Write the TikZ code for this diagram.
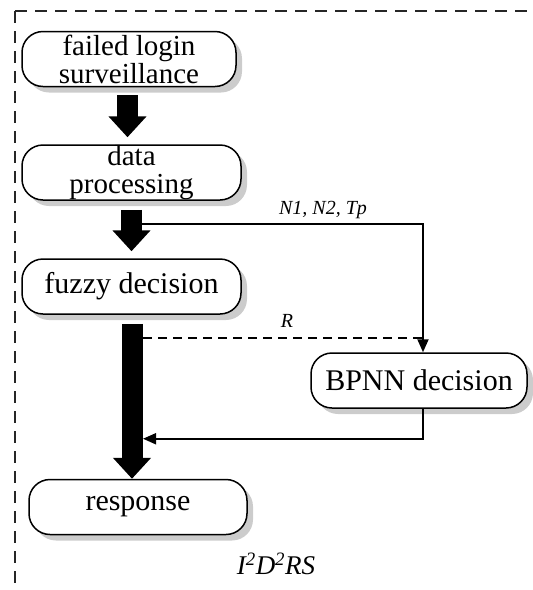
\documentclass[tikz,border=0pt]{standalone}
\usepackage{fontspec}
\setmainfont{Liberation Serif}
\usetikzlibrary{arrows.meta,shadows,calc}
\begin{document}
\begin{tikzpicture}[x=1pt,y=-1pt,
 box/.style={draw,line width=1.5pt,rounded corners=21pt,fill=white,minimum height=55pt,align=center,inner sep=0pt,
   font=\fontsize{30}{26}\selectfont,
   drop shadow={shadow xshift=6pt,shadow yshift=-6pt,fill=black!20,opacity=1}},
 twoline/.style={font=\fontsize{29}{28}\selectfont,inner ysep=-4pt},
 big/.style={line width=21pt,-{Triangle[width=37pt,length=21pt]}},
 thin/.style={line width=1.8pt},
 tip/.style={-{Triangle[width=11pt,length=13pt]}},
 lab/.style={font=\itshape\fontsize{20}{22}\selectfont},
 frame/.style={line width=1.2pt,black!85,dash pattern=on 12pt off 8pt}]
\useasboundingbox (0,0) rectangle (533,590);
% frame
\coordinate (c0) at (15,11);
\coordinate (c1) at (533,11);
\coordinate (c2) at (15,590);
\draw[frame] (c0) -- (c1);
\draw[frame] (c0) -- (c2);
% nodes
\node[box,twoline,minimum width=214pt] (fl) at (129,59) {failed login\\surveillance};
\node[box,twoline,minimum width=219pt] (dp) at (131.5,172.5) {data\\processing};
\node[box,minimum width=219pt] (fz) at (131.5,286.5) {fuzzy decision};
\node[box,minimum width=216pt] (bp) at (419,380.5) {BPNN decision};
\node[box,minimum width=218pt] (rs) at (138,507) {response};
% thick arrows
\draw[big] ($(fl.south)+(-1.5,8)$) -- ($(dp.north)+(-4,-7)$);
\draw[big] ($(dp.south)+(0,9)$) -- ($(fz.north)+(0,-7)$);
\draw[big] ($(fz.south)+(0.5,9)$) -- ($(rs.north)+(-6,0)$);
% thin connectors
\coordinate (s2) at ($(dp.south)+(10.5,23)$);
\coordinate (s3) at ($(fz.south)+(11.5,23)$);
\coordinate (s4) at ($(fz.south)+(11.5,124)$);
\coordinate (bpin) at ($(bp.north)+(4,0)$);
\coordinate (bpout) at ($(bp.south)+(4,0)$);
\draw[thin,tip] (s2) -| (bpin);
\draw[thin,dash pattern=on 9pt off 6pt] (s3) -- (s3 -| bpin);
\draw[thin,tip] (bpout) |- (s4);
% labels
\node[lab] (l1) at (323,210) {N1, N2, Tp};
\node[lab] (lr) at (287,321) {R};
\node[font=\itshape\fontsize{27}{29}\selectfont] (ttl) at (276,564) {I\textsuperscript{2}D\textsuperscript{2}RS};
\end{tikzpicture}
\end{document}
